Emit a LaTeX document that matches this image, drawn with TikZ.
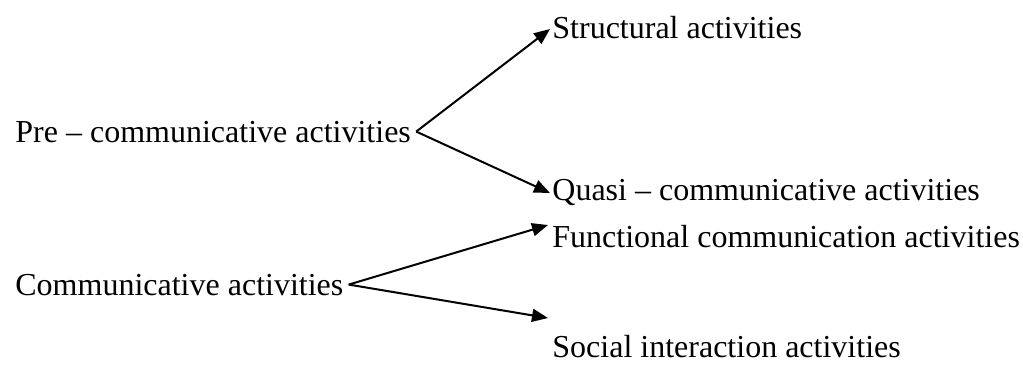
\documentclass[tikz,border=0pt]{standalone}
\usepackage{fontspec}
\setmainfont{Liberation Serif}
\usetikzlibrary{arrows.meta}

\begin{document}
\begin{tikzpicture}[x=0.5pt,y=-0.5pt]
\fontsize{16}{19}\selectfont
\tikzstyle{every node}=[inner sep=0pt,anchor=base west];
\tikzstyle{arr}=[-{Triangle[length=8pt,width=6.5pt]},line width=1pt];
\useasboundingbox (0,0) rectangle (1023,366);
\node (x1) at (15,142) {Pre – communicative activities};
\node (x2) at (552,38) {Structural activities};
\node (x3) at (552,200) {Quasi – communicative activities};
\node (x4) at (15,295) {Communicative activities};
\node (x5) at (552,247) {Functional communication activities};
\node (x6) at (552,357) {Social interaction activities};
\coordinate (t2) at (550,29);
\coordinate (t3) at (550,193);
\coordinate (t5) at (548,225);
\coordinate (t6) at (548,318);
\draw [arr] ([xshift=2.5pt]x1.east) -- (t2);
\draw [arr] ([xshift=2.5pt]x1.east) -- (t3);
\draw [arr] ([xshift=2.5pt]x4.east) -- (t5);
\draw [arr] ([xshift=2.5pt]x4.east) -- (t6);
\end{tikzpicture}
\end{document}
